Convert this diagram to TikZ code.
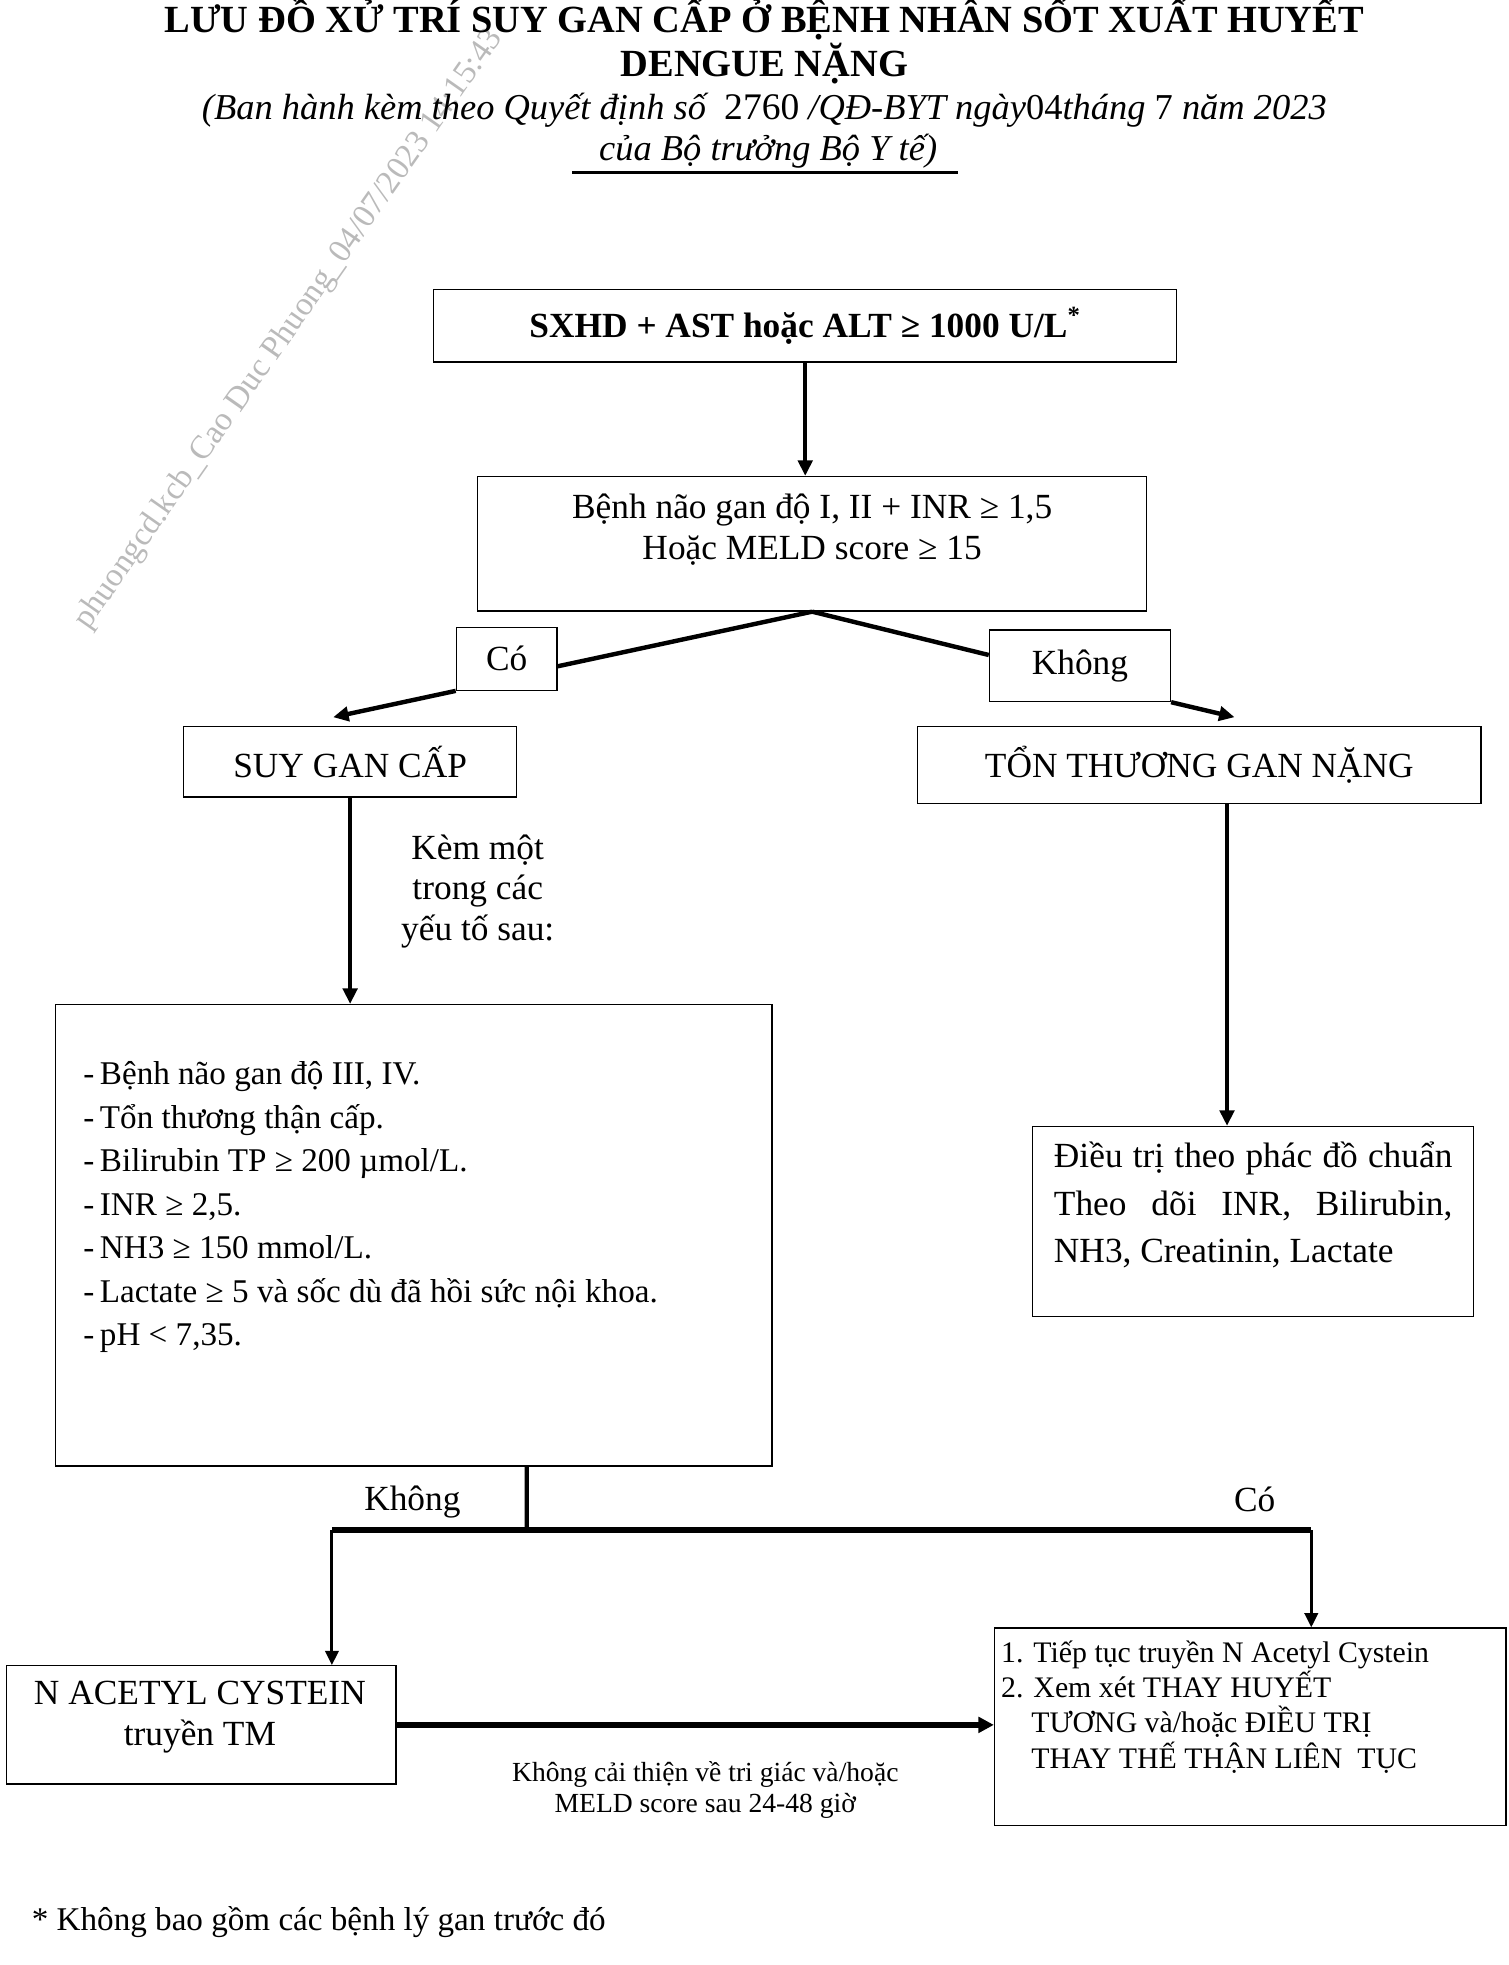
\documentclass[tikz,border=0pt]{standalone}
\usepackage{fontspec}
\setmainfont{Liberation Serif}
\usetikzlibrary{arrows.meta,positioning}

\newcommand{\fsz}[2]{\fontsize{#1}{#2}\selectfont}

\begin{document}
\begin{tikzpicture}[x=0.02cm, y=-0.02cm,
    box/.style={draw, line width=0.6pt, inner sep=0pt, font=\fsz{16}{19}},
    txt/.style={inner sep=0pt, font=\fsz{16}{19}},
    link/.style={line width=2pt},
    arr/.style={link, -{Triangle[length=7pt,width=6.5pt]}},
    thinarr/.style={line width=1.4pt, -{Triangle[length=6.5pt,width=6pt]}},
    bar/.style={line width=2.6pt}]
  \useasboundingbox (0,0) rectangle (1200,1563);

  \node[rotate=55, text=black!27, font=\fsz{15}{15}] (wmark) at (230,262) {phuongcd.kcb\_Cao Duc Phuong\_04/07/2023 14:15:43};

  % title
  \node[txt, anchor=base, font=\bfseries\fsz{17.4}{20}] (title1) at (608,26) {LƯU ĐỒ XỬ TRÍ SUY GAN CẤP Ở BỆNH NHÂN SỐT XUẤT HUYẾT};
  \node[txt, anchor=base, font=\bfseries\fsz{17.4}{20}] (title2) at (608,61) {DENGUE NẶNG};
  \node[txt, anchor=base, font=\itshape\fsz{16.5}{20}] (decree1) at (608,95) {(Ban hành kèm theo Quyết định số\ \ {\upshape\fsz{17}{20}2760} /QĐ-BYT ngày{\upshape 04}tháng {\upshape 7} năm 2023};
  \node[txt, anchor=base, font=\itshape\fsz{16.5}{20}] (decree2) at (611,128) {của Bộ trưởng Bộ Y tế)};
  \draw[line width=1.2pt] (455,137) -- (762,137);

  % boxes
  \node[box, font=\bfseries\fsz{16}{19}, minimum width=11.82cm, minimum height=1.16cm] (sxhd) at (640.5,259) {SXHD + AST hoặc ALT ≥ 1000 U/L\textsuperscript{*}};
  \node[box, minimum width=10.64cm, minimum height=2.14cm] (crit1) at (646,432.5) {};
  \node[txt, align=center, font=\fsz{16}{18.7}] (crit1txt) at (646,421) {Bệnh não gan độ I, II + INR ≥ 1,5\\Hoặc MELD score ≥ 15};
  \node[box, minimum width=1.6cm, minimum height=1cm] (yes1) at (403,524) {Có};
  \node[box, minimum width=2.88cm, minimum height=1.14cm] (no1) at (859,529.5) {Không};
  \node[box, minimum width=5.3cm, minimum height=1.12cm] (alf) at (278.5,606) {SUY GAN CẤP};
  \node[box, minimum width=8.96cm, minimum height=1.22cm] (sli) at (954,608.5) {TỔN THƯƠNG GAN NẶNG};
  \node[txt, align=center, font=\fsz{16}{18.4}] (extra) at (380,709) {Kèm một\\trong các\\yếu tố sau:};

  \node[box, minimum width=11.4cm, minimum height=7.34cm] (crit2) at (329,982.5) {};
  \node[txt, align=left, anchor=north west, font=\fsz{15}{19.7}] (crit2txt) at (66,844) {-\,Bệnh não gan độ III, IV.\\-\,Tổn thương thận cấp.\\-\,Bilirubin TP ≥ 200 µmol/L.\\-\,INR ≥ 2,5.\\-\,NH3 ≥ 150 mmol/L.\\-\,Lactate ≥ 5 và sốc dù đã hồi sức nội khoa.\\-\,pH < 7,35.};
  \node[box, minimum width=7.02cm, minimum height=3.02cm] (std) at (996.5,971.5) {};
  \node[txt, align=left, anchor=north west, font=\fsz{16}{21.5}] (stdtxt) at (838,908) {\makebox[6.34cm][s]{Điều trị theo phác đồ chuẩn}\\\makebox[6.34cm][s]{Theo dõi INR, Bilirubin,}\\NH3, Creatinin, Lactate};

  \coordinate (jM) at (419,1217);
  \coordinate (jL) at (264,1217);
  \coordinate (jR) at (1043,1217);
  \node[txt] (no2) at (328,1195) {Không};
  \node[txt] (yes2) at (998,1193) {Có};

  \node[box, minimum width=6.2cm, minimum height=1.88cm] (nac) at (160,1372) {};
  \node[txt, align=center, font=\fsz{16}{18.7}] (nactxt) at (159,1366) {N ACETYL CYSTEIN\\truyền TM};
  \node[box, minimum width=8.14cm, minimum height=3.14cm] (plan) at (994.5,1373.5) {};
  \node[txt, align=left, anchor=north west, font=\fsz{13.5}{15.9}] (plantxt) at (796,1305) {1. Tiếp tục truyền N Acetyl Cystein\\2. Xem xét THAY HUYẾT\\\hspace*{0.48cm}TƯƠNG và/hoặc ĐIỀU TRỊ\\\hspace*{0.48cm}THAY THẾ THẬN LIÊN\ \ TỤC};
  \node[txt, align=center, font=\fsz{12.5}{14.2}] (noimp) at (561,1424) {Không cải thiện về tri giác và/hoặc\\MELD score sau 24-48 giờ};

  \node[txt, anchor=west, font=\fsz{15}{18}] (note) at (25,1529) {* Không bao gồm các bệnh lý gan trước đó};

  % connectors
  \draw[arr] (sxhd.south) -- (sxhd.south |- crit1.north);
  \draw[link] (crit1.south) -- ([yshift=-0.12cm]yes1.east);
  \draw[arr] (yes1.south west) -- ([xshift=-0.27cm,yshift=0.14cm]alf.north);
  \draw[link] (crit1.south) -- ([yshift=0.17cm]no1.west);
  \draw[arr] (no1.south east) -- ([xshift=0.56cm,yshift=0.14cm]sli.north);
  \draw[arr] (alf.south) -- (alf.south |- crit2.north);
  \draw[arr] ([xshift=0.44cm]sli.south) -- ([xshift=0.44cm]sli.south |- std.north);
  \draw[link] ([xshift=1.8cm]crit2.south) -- (jM);
  \draw[bar] (jL) -- (jR);
  \draw[thinarr] (jL) -- (jL |- nac.north);
  \draw[thinarr] (jR) -- (jR |- plan.north);
  \draw[bar, -{Triangle[length=7pt,width=7pt]}] (nac.east) -- (nac.east -| plan.west);
\end{tikzpicture}
\end{document}
